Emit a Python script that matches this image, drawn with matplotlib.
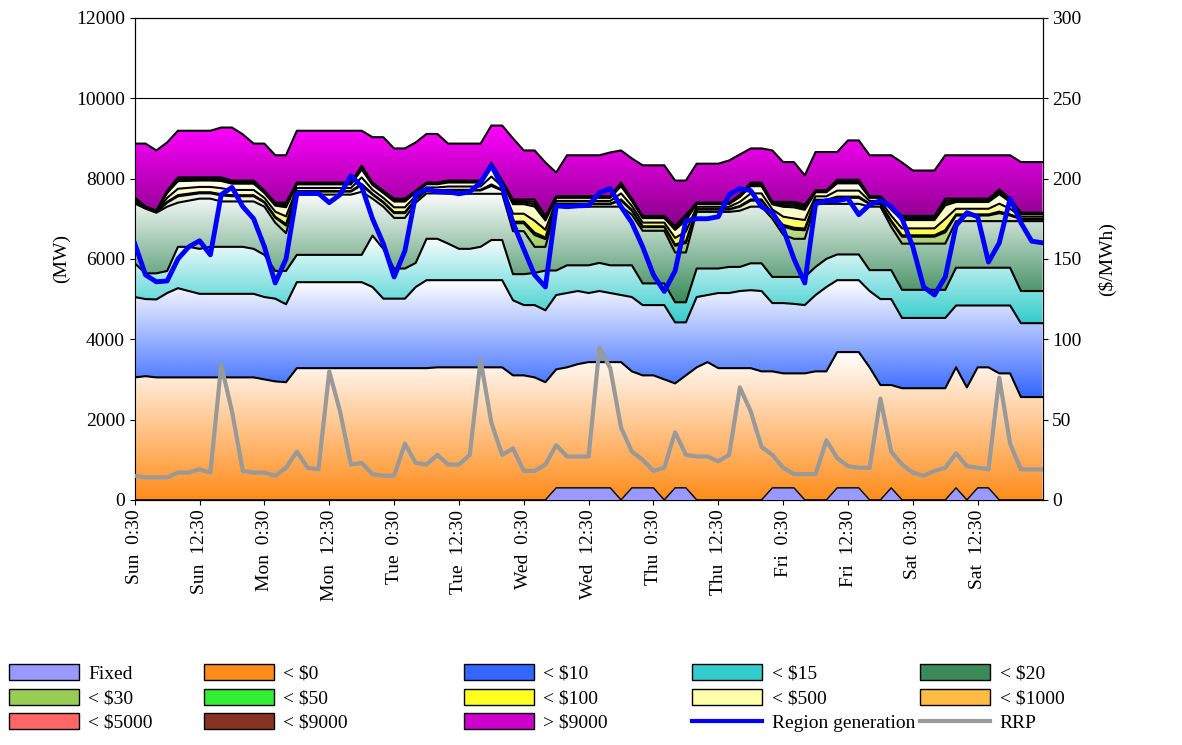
import numpy as np
import matplotlib
matplotlib.use("Agg")
import matplotlib.pyplot as plt
from matplotlib.colors import LinearSegmentedColormap
from matplotlib.patches import Patch
from matplotlib.lines import Line2D

plt.rcParams['font.family'] = ['Liberation Serif', 'DejaVu Serif']

# half-hour index in hours, sampled every 2 hours over the week
hours = np.arange(0, 170, 2)

tick_hours = list(range(0, 168, 12))
tick_labels = ['Sun  0:30', 'Sun  12:30', 'Mon  0:30', 'Mon  12:30', 'Tue  0:30', 'Tue  12:30',
               'Wed  0:30', 'Wed  12:30', 'Thu  0:30', 'Thu  12:30', 'Fri  0:30', 'Fri  12:30',
               'Sat  0:30', 'Sat  12:30']

# cumulative tops of the bid bands (MW)
fixed = [0]*12 + [0]*12 + [0]*12 + \
        [0, 0, 0, 300, 300, 300, 300, 300, 300, 0, 300, 300] + \
        [300, 0, 300, 300, 0, 0, 0, 0, 0, 0, 0, 300] + \
        [300, 300, 0, 0, 0, 300, 300, 300, 0, 0, 300, 0] + \
        [0, 0, 0, 0, 300, 0, 300, 300, 0, 0, 0, 0] + [0]
top_lt0 = [3050, 3080, 3050, 3050, 3050, 3050, 3050, 3050, 3050, 3050, 3050, 3050,
           3000, 2950, 2930, 3280, 3280, 3280, 3280, 3280, 3280, 3280, 3280, 3280,
           3280, 3280, 3280, 3280, 3300, 3300, 3300, 3300, 3300, 3300, 3300, 3100,
           3100, 3050, 2930, 3250, 3300, 3380, 3430, 3430, 3430, 3430, 3200, 3100,
           3100, 3000, 2900, 3100, 3300, 3430, 3280, 3280, 3280, 3280, 3200, 3200,
           3150, 3150, 3150, 3200, 3200, 3680, 3680, 3680, 3300, 2860, 2860, 2780,
           2780, 2780, 2780, 2780, 3300, 2800, 3300, 3300, 3150, 3150, 2560, 2560, 2560]
top_lt10 = [5050, 5000, 4990, 5150, 5270, 5200, 5130, 5130, 5130, 5130, 5130, 5130,
            5050, 5010, 4870, 5420, 5420, 5420, 5420, 5420, 5420, 5420, 5300, 5010,
            5010, 5010, 5300, 5470, 5470, 5470, 5470, 5470, 5470, 5470, 5470, 4970,
            4850, 4850, 4720, 5100, 5150, 5200, 5150, 5200, 5150, 5100, 5050, 4850,
            4850, 4850, 4420, 4420, 5050, 5100, 5150, 5150, 5200, 5220, 5200, 4900,
            4900, 4880, 4850, 5100, 5300, 5470, 5470, 5470, 5200, 5000, 5000, 4530,
            4530, 4530, 4530, 4530, 4840, 4840, 4840, 4840, 4840, 4840, 4400, 4400, 4400]
top_lt15 = [5890, 5640, 5640, 5700, 6300, 6300, 6250, 6300, 6300, 6300, 6300, 6250,
            6100, 5700, 5700, 6100, 6100, 6100, 6100, 6100, 6100, 6100, 6580, 6250,
            5760, 5760, 5900, 6500, 6500, 6380, 6250, 6250, 6300, 6470, 6470, 5620,
            5620, 5650, 5710, 5710, 5840, 5840, 5840, 5900, 5840, 5840, 5840, 5390,
            5390, 5390, 4920, 4920, 5760, 5760, 5760, 5800, 5800, 5890, 5890, 5550,
            5550, 5550, 5550, 5800, 6000, 6110, 6110, 6110, 5720, 5720, 5720, 5230,
            5230, 5230, 5230, 5230, 5780, 5780, 5780, 5780, 5780, 5780, 5200, 5200, 5200]
top_lt20 = [7380, 7250, 7150, 7300, 7400, 7450, 7500, 7500, 7430, 7430, 7430, 7430,
            7300, 6900, 6640, 7600, 7600, 7600, 7600, 7600, 7600, 7670, 7500, 7300,
            7020, 7020, 7400, 7630, 7630, 7620, 7620, 7620, 7620, 7620, 7620, 6690,
            6690, 6300, 6300, 7300, 7300, 7300, 7300, 7300, 7300, 7300, 7100, 6700,
            6700, 6700, 6160, 6160, 7170, 7170, 7170, 7170, 7200, 7300, 7300, 7000,
            6600, 6500, 6500, 7370, 7370, 7370, 7370, 7370, 7300, 7300, 6800, 6380,
            6380, 6380, 6380, 6380, 6940, 6940, 6940, 6940, 6940, 6940, 6940, 6940, 6940]
top_lt9000 = [7530, 7300, 7200, 7700, 8030, 8030, 8030, 8030, 8030, 7950, 7950, 7950,
              7700, 7400, 7400, 7900, 7900, 7900, 7900, 7900, 7900, 8320, 7900, 7700,
              7500, 7500, 7700, 7900, 7900, 7950, 7950, 7950, 7950, 8400, 7950, 7480,
              7480, 7480, 7070, 7560, 7560, 7560, 7560, 7560, 7560, 7900, 7500, 7070,
              7070, 7070, 6820, 7100, 7400, 7400, 7400, 7400, 7600, 7900, 7900, 7420,
              7420, 7420, 7350, 7710, 7710, 7970, 7970, 7970, 7560, 7560, 7300, 7070,
              7070, 7070, 7070, 7500, 7500, 7500, 7500, 7500, 7730, 7500, 7150, 7150, 7150]
top_gt9000 = [8870, 8870, 8700, 8900, 9190, 9190, 9190, 9190, 9270, 9270, 9100, 8870,
              8870, 8580, 8580, 9190, 9190, 9190, 9190, 9190, 9190, 9190, 9030, 9030,
              8750, 8750, 8900, 9110, 9110, 8870, 8870, 8870, 8870, 9320, 9320, 9000,
              8700, 8700, 8400, 8150, 8580, 8580, 8580, 8580, 8650, 8700, 8500, 8330,
              8330, 8330, 7950, 7950, 8370, 8370, 8370, 8450, 8600, 8750, 8750, 8700,
              8410, 8410, 8080, 8660, 8660, 8660, 8950, 8950, 8580, 8580, 8580, 8400,
              8200, 8200, 8200, 8580, 8580, 8580, 8580, 8580, 8580, 8580, 8410, 8410, 8410]
# share of the gap between <$20 and >$9000 taken by each thin band
thin_share = [0.25, 0.05, 0.25, 0.3, 0.05, 0.05, 0.05]

region_gen = [6380, 5600, 5430, 5450, 6000, 6300, 6450, 6100, 7600, 7780, 7300, 7000,
              6300, 5400, 6000, 7630, 7630, 7630, 7400, 7600, 8070, 7800, 7000, 6380,
              5550, 6200, 7600, 7740, 7670, 7670, 7620, 7670, 7900, 8330, 7800, 6900,
              6240, 5600, 5300, 7320, 7300, 7320, 7330, 7650, 7750, 7300, 6900, 6300,
              5600, 5190, 5700, 6950, 7000, 7000, 7050, 7600, 7750, 7700, 7300, 7150,
              6750, 6000, 5400, 7370, 7450, 7450, 7500, 7100, 7350, 7450, 7300, 7000,
              6300, 5300, 5100, 5550, 6830, 7150, 7050, 5920, 6400, 7500, 6900, 6440, 6400]
rrp = [15, 14, 14, 14, 17, 17, 19, 17, 84, 55, 18, 17,
       17, 15, 20, 30, 20, 19, 80, 55, 22, 23, 16, 15,
       15, 35, 23, 22, 28, 22, 22, 28, 87, 48, 28, 32,
       18, 18, 22, 34, 27, 27, 27, 95, 82, 45, 30, 25,
       18, 20, 42, 28, 27, 27, 24, 28, 70, 55, 33, 28,
       20, 16, 16, 16, 37, 26, 21, 20, 20, 63, 30, 22,
       17, 15, 18, 20, 29, 21, 20, 19, 76, 35, 19, 19, 19]

names = ['Fixed', '< $0', '< $10', '< $15', '< $20', '< $30', '< $50', '< $100',
         '< $500', '< $1000', '< $5000', '< $9000', '> $9000']
colors = ['#9999ff', '#ff8c1a', '#3366ff', '#33cccc', '#3a8a5a', '#99cc55', '#33ee33',
          '#ffff22', '#ffffaa', '#ffbb44', '#ff6666', '#883322', '#cc00cc']

# build cumulative boundaries
fixed = np.array(fixed, float)
t20 = np.array(top_lt20, float)
t9000 = np.array(top_lt9000, float)
gap = t9000 - t20
bounds = [np.zeros(len(hours)), fixed, np.array(top_lt0, float), np.array(top_lt10, float),
          np.array(top_lt15, float), t20]
acc = t20.copy()
for s in thin_share:
    acc = acc + gap * s
    bounds.append(acc.copy())
bounds.append(np.array(top_gt9000, float))

fig = plt.figure(figsize=(11.82, 7.45), dpi=100)
ax = fig.add_axes([0.114, 0.329, 0.768, 0.647])
ax2 = ax.twinx()
ax.set_zorder(ax2.get_zorder() + 1)
ax.patch.set_visible(False)

grad = np.linspace(0, 1, 256).reshape(-1, 1)
for i, name in enumerate(names):
    lo, hi = bounds[i], bounds[i + 1]
    if np.all(hi - lo <= 0):
        continue
    poly = ax.fill_between(hours, lo, hi, facecolor='none', edgecolor='none')
    if i == 0:
        cmap = LinearSegmentedColormap.from_list('g', [colors[0], colors[0]])
    elif i == len(names) - 1:
        cmap = LinearSegmentedColormap.from_list('g', ['#880088', '#ff00ff'])
    else:
        cmap = LinearSegmentedColormap.from_list('g', [colors[i], '#ffffff'])
    ymin = max(lo.min(), 0)
    ymax = hi.max()
    im = ax.imshow(grad, aspect='auto', cmap=cmap, origin='lower',
                   extent=[0, 168, ymin, ymax], zorder=1)
    im.set_clip_path(poly.get_paths()[0], transform=ax.transData)
    ax.plot(hours, hi, color='black', lw=1.0 if i == 0 else 1.5, zorder=2)

ax.set_xlim(0, 168)
ax.set_ylim(0, 12000)
ax.axhline(10000, color='black', lw=0.8, zorder=0.5)
ax.plot(hours, region_gen, color='#0000ff', lw=3.5, zorder=4)
# RRP drawn on the price scale (right axis 0-300 maps onto 0-12000)
ax.plot(hours, np.array(rrp) * 12000 / 300, color='#999999', lw=3, zorder=3)

ax2.set_ylim(0, 300)
ax2.set_yticks(range(0, 301, 50))

ax.set_yticks(range(0, 12001, 2000))
ax.set_xticks(tick_hours)
ax.set_xticklabels(tick_labels, rotation=90)
ax.tick_params(axis='both', labelsize=14, direction='out')
ax2.tick_params(axis='y', labelsize=14, direction='out')
ax.set_ylabel('(MW)', fontsize=14)
ax2.set_ylabel('($/MWh)', fontsize=14, labelpad=12)

handles = []
for n, c in zip(names, colors):
    handles.append(Patch(facecolor=c, edgecolor='black', label=n))
handles.append(Line2D([], [], color='#0000ff', lw=3, label='Region generation'))
handles.append(Line2D([], [], color='#999999', lw=3, label='RRP'))

col_x = [0.004, 0.169, 0.389, 0.582, 0.775]
for c in range(5):
    col = [handles[r * 5 + c] for r in range(3)]
    fig.legend(handles=col, loc='upper left', bbox_to_anchor=(col_x[c], 0.114),
               frameon=False, fontsize=14, handlelength=3.6, handleheight=0.9,
               labelspacing=0.3, borderaxespad=0.0, borderpad=0.2, handletextpad=0.5)

fig.savefig('out.png', dpi=100)
